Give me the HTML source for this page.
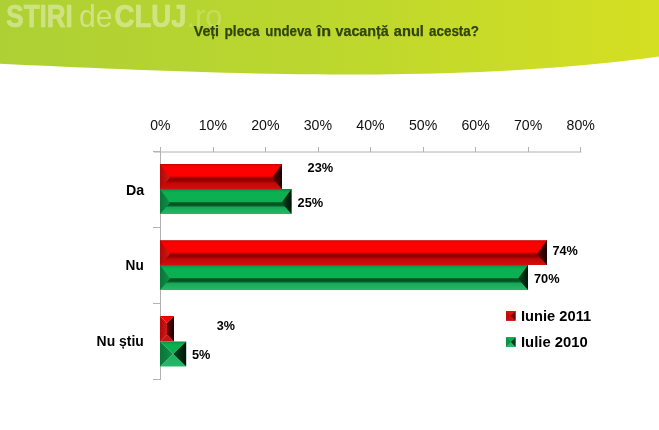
<!DOCTYPE html>
<html><head><meta charset="utf-8"><title>chart</title>
<style>
html,body{margin:0;padding:0;background:#fff;}
body{width:659px;height:430px;overflow:hidden;font-family:"Liberation Sans",sans-serif;}
svg{display:block;will-change:transform;font-family:"Liberation Sans",sans-serif;}
</style></head><body>
<svg width="659" height="430" viewBox="0 0 659 430">
<defs>
<linearGradient id="hg" x1="0" y1="0" x2="1" y2="0"><stop offset="0" stop-color="#aed034"/><stop offset="0.5" stop-color="#bcd72e"/><stop offset="1" stop-color="#d5df22"/></linearGradient>
<linearGradient id="r_body" x1="0" y1="0" x2="0" y2="1"><stop offset="0.000" stop-color="#c40000"/><stop offset="0.060" stop-color="#ec0000"/><stop offset="0.120" stop-color="#ff0000"/><stop offset="0.480" stop-color="#ff0000"/><stop offset="0.540" stop-color="#b40000"/><stop offset="0.600" stop-color="#8c0000"/><stop offset="0.680" stop-color="#9c0000"/><stop offset="0.760" stop-color="#c40606"/><stop offset="1.000" stop-color="#d01010"/></linearGradient>
<linearGradient id="g_body" x1="0" y1="0" x2="0" y2="1"><stop offset="0.000" stop-color="#088038"/><stop offset="0.060" stop-color="#0a9c46"/><stop offset="0.120" stop-color="#0cb050"/><stop offset="0.500" stop-color="#0cb050"/><stop offset="0.540" stop-color="#006830"/><stop offset="0.600" stop-color="#004c20"/><stop offset="0.660" stop-color="#00602a"/><stop offset="0.740" stop-color="#1aa858"/><stop offset="1.000" stop-color="#24b868"/></linearGradient>
<linearGradient id="r_top" x1="0" y1="0" x2="0" y2="1"><stop offset="0" stop-color="#d00000"/><stop offset="0.15" stop-color="#fa0000"/><stop offset="0.3" stop-color="#ff0000"/><stop offset="0.88" stop-color="#ff0000"/><stop offset="1" stop-color="#d80000"/></linearGradient>
<linearGradient id="r_mid" x1="0" y1="0" x2="0" y2="1"><stop offset="0" stop-color="#b40000"/><stop offset="0.35" stop-color="#8c0000"/><stop offset="0.7" stop-color="#980000"/><stop offset="1" stop-color="#c40a0a"/></linearGradient>
<linearGradient id="r_bot" x1="0" y1="0" x2="0" y2="1"><stop offset="0" stop-color="#d01414"/><stop offset="1" stop-color="#cc1010"/></linearGradient>
<linearGradient id="r_left" x1="0" y1="0" x2="1" y2="0"><stop offset="0" stop-color="#b00808"/><stop offset="1" stop-color="#d01818"/></linearGradient>
<linearGradient id="r_right" x1="0" y1="0" x2="1" y2="0"><stop offset="0" stop-color="#6c0000"/><stop offset="1" stop-color="#1a0000"/></linearGradient>
<linearGradient id="g_top" x1="0" y1="0" x2="0" y2="1"><stop offset="0" stop-color="#0a8c40"/><stop offset="0.2" stop-color="#0cac4e"/><stop offset="0.35" stop-color="#0cb050"/><stop offset="0.9" stop-color="#0cb050"/><stop offset="1" stop-color="#089040"/></linearGradient>
<linearGradient id="g_mid" x1="0" y1="0" x2="0" y2="1"><stop offset="0" stop-color="#006028"/><stop offset="0.4" stop-color="#004c20"/><stop offset="1" stop-color="#109048"/></linearGradient>
<linearGradient id="g_bot" x1="0" y1="0" x2="0" y2="1"><stop offset="0" stop-color="#1cb060"/><stop offset="1" stop-color="#24b868"/></linearGradient>
<linearGradient id="g_left" x1="0" y1="0" x2="1" y2="0"><stop offset="0" stop-color="#0a7438"/><stop offset="1" stop-color="#109048"/></linearGradient>
<linearGradient id="g_right" x1="0" y1="0" x2="1" y2="0"><stop offset="0" stop-color="#004c22"/><stop offset="1" stop-color="#001408"/></linearGradient>
</defs>
<rect width="659" height="430" fill="#fff"/>
<path d="M0,0 H659 L659.0,56.59 L645.0,58.41 L630.0,60.24 L615.0,61.93 L600.0,63.49 L585.0,64.93 L570.0,66.25 L555.0,67.46 L540.0,68.55 L525.0,69.53 L510.0,70.42 L495.0,71.20 L480.0,71.89 L465.0,72.49 L450.0,73.01 L435.0,73.44 L420.0,73.79 L405.0,74.06 L390.0,74.27 L375.0,74.40 L360.0,74.47 L345.0,74.48 L330.0,74.43 L315.0,74.32 L300.0,74.16 L285.0,73.95 L270.0,73.69 L255.0,73.39 L240.0,73.05 L225.0,72.67 L210.0,72.25 L195.0,71.79 L180.0,71.31 L165.0,70.79 L150.0,70.25 L135.0,69.68 L120.0,69.09 L105.0,68.48 L90.0,67.84 L75.0,67.19 L60.0,66.53 L45.0,65.84 L30.0,65.15 L15.0,64.44 L0.0,63.72 Z" fill="url(#hg)"/>
<g font-size="30.5px" fill="#fff" opacity="0.39">
<text x="6.3" y="27" font-weight="bold" stroke="#fff" stroke-width="0.7" textLength="66.5" lengthAdjust="spacingAndGlyphs">STIRI</text>
<text x="79" y="27" textLength="33.5" lengthAdjust="spacingAndGlyphs">de</text>
<text x="114.5" y="27" font-weight="bold" stroke="#fff" stroke-width="0.7" textLength="72" lengthAdjust="spacingAndGlyphs">CLUJ</text>
</g>
<g font-size="30.5px" fill="#fff" opacity="0.19">
<text x="186.5" y="27" textLength="36" lengthAdjust="spacingAndGlyphs">.ro</text>
</g>
<g stroke="#b2b2b2" stroke-width="1" fill="none" shape-rendering="crispEdges">
<line x1="154" y1="152" x2="581.5" y2="152" shape-rendering="auto"/>
<line x1="160.5" y1="147" x2="160.5" y2="380"/>
<line x1="160.5" y1="147" x2="160.5" y2="152" />
<line x1="213.5" y1="147" x2="213.5" y2="152" />
<line x1="265.5" y1="147" x2="265.5" y2="152" />
<line x1="318.5" y1="147" x2="318.5" y2="152" />
<line x1="370.5" y1="147" x2="370.5" y2="152" />
<line x1="423.5" y1="147" x2="423.5" y2="152" />
<line x1="475.5" y1="147" x2="475.5" y2="152" />
<line x1="528.5" y1="147" x2="528.5" y2="152" />
<line x1="580.5" y1="147" x2="580.5" y2="152" />
<line x1="153" y1="151.5" x2="160.5" y2="151.5" />
<line x1="153" y1="227.5" x2="160.5" y2="227.5" />
<line x1="153" y1="303.5" x2="160.5" y2="303.5" />
<line x1="153" y1="379.5" x2="160.5" y2="379.5" />
</g>
<g shape-rendering="geometricPrecision">
<rect x="160.0" y="164.0" width="122.0" height="25.0" fill="url(#r_body)"/>
<polygon points="160.0,164.0 170.0,177.8 160.0,189.0" fill="url(#r_left)"/>
<polygon points="282.0,164.0 272.0,177.8 282.0,189.0" fill="url(#r_right)"/>
<rect x="160.0" y="189.0" width="131.5" height="25.0" fill="url(#g_body)"/>
<polygon points="160.0,189.0 170.0,202.8 160.0,214.0" fill="url(#g_left)"/>
<polygon points="291.5,189.0 281.5,202.8 291.5,214.0" fill="url(#g_right)"/>
<rect x="160.0" y="240.2" width="387.0" height="24.8" fill="url(#r_body)"/>
<polygon points="160.0,240.2 170.0,254.0 160.0,265.0" fill="url(#r_left)"/>
<polygon points="547.0,240.2 537.0,254.0 547.0,265.0" fill="url(#r_right)"/>
<rect x="160.0" y="265.0" width="368.0" height="25.0" fill="url(#g_body)"/>
<polygon points="160.0,265.0 170.0,278.8 160.0,290.0" fill="url(#g_left)"/>
<polygon points="528.0,265.0 518.0,278.8 528.0,290.0" fill="url(#g_right)"/>
<polygon points="160.0,316.0 174.0,316.0 167.0,323.0 167.0,323.0" fill="url(#r_top)"/>
<polygon points="160.0,341.5 174.0,341.5 167.0,334.5 167.0,334.5" fill="url(#r_bot)"/>
<polygon points="160.0,316.0 167.0,323.0 167.0,334.5 160.0,341.5" fill="url(#r_left)"/>
<polygon points="174.0,316.0 167.0,323.0 167.0,334.5 174.0,341.5" fill="url(#r_right)"/>
<polygon points="160.0,341.5 186.2,341.5 173.1,354.0 173.1,354.0" fill="url(#g_top)"/>
<polygon points="160.0,366.5 186.2,366.5 173.1,354.0 173.1,354.0" fill="url(#g_bot)"/>
<polygon points="160.0,341.5 173.1,354.0 173.1,354.0 160.0,366.5" fill="url(#g_left)"/>
<polygon points="186.2,341.5 173.1,354.0 173.1,354.0 186.2,366.5" fill="url(#g_right)"/>
</g>
<rect x="506" y="311" width="9.5" height="9.7" fill="#c00c0c"/>
<polygon points="515.5,311 515.5,320.7 510.7,315.8" fill="#700000"/>
<polygon points="506,311 515.5,311 510.7,315.8" fill="#dc1010"/>
<polygon points="506,320.7 515.5,320.7 510.7,315.8" fill="#c41212"/>
<rect x="506" y="337.2" width="9.5" height="9.8" fill="#109048"/>
<polygon points="515.5,337.2 515.5,347 510.7,342.1" fill="#003c1a"/>
<polygon points="506,337.2 515.5,337.2 510.7,342.1" fill="#10a850"/>
<polygon points="506,347 515.5,347 510.7,342.1" fill="#28b868"/>
<text x="160.3" y="129.8" font-size="14.5px" font-weight="normal" fill="#111" text-anchor="middle" textLength="20.2" lengthAdjust="spacingAndGlyphs" >0%</text>
<text x="212.9" y="129.8" font-size="14.5px" font-weight="normal" fill="#111" text-anchor="middle" textLength="28.3" lengthAdjust="spacingAndGlyphs" >10%</text>
<text x="265.4" y="129.8" font-size="14.5px" font-weight="normal" fill="#111" text-anchor="middle" textLength="28.3" lengthAdjust="spacingAndGlyphs" >20%</text>
<text x="317.9" y="129.8" font-size="14.5px" font-weight="normal" fill="#111" text-anchor="middle" textLength="28.3" lengthAdjust="spacingAndGlyphs" >30%</text>
<text x="370.5" y="129.8" font-size="14.5px" font-weight="normal" fill="#111" text-anchor="middle" textLength="28.3" lengthAdjust="spacingAndGlyphs" >40%</text>
<text x="423.1" y="129.8" font-size="14.5px" font-weight="normal" fill="#111" text-anchor="middle" textLength="28.3" lengthAdjust="spacingAndGlyphs" >50%</text>
<text x="475.6" y="129.8" font-size="14.5px" font-weight="normal" fill="#111" text-anchor="middle" textLength="28.3" lengthAdjust="spacingAndGlyphs" >60%</text>
<text x="528.1" y="129.8" font-size="14.5px" font-weight="normal" fill="#111" text-anchor="middle" textLength="28.3" lengthAdjust="spacingAndGlyphs" >70%</text>
<text x="580.7" y="129.8" font-size="14.5px" font-weight="normal" fill="#111" text-anchor="middle" textLength="28.3" lengthAdjust="spacingAndGlyphs" >80%</text>
<text x="144.3" y="194.7" font-size="14.5px" font-weight="bold" fill="#000" text-anchor="end" textLength="18.2" lengthAdjust="spacingAndGlyphs" >Da</text>
<text x="143.8" y="269.9" font-size="14.5px" font-weight="bold" fill="#000" text-anchor="end" textLength="18.2" lengthAdjust="spacingAndGlyphs" >Nu</text>
<text x="143.8" y="345.7" font-size="14.5px" font-weight="bold" fill="#000" text-anchor="end" textLength="47.2" lengthAdjust="spacingAndGlyphs" >Nu știu</text>
<text x="307.6" y="172.0" font-size="13px" font-weight="bold" fill="#000" text-anchor="start" textLength="25.7" lengthAdjust="spacingAndGlyphs" >23%</text>
<text x="297.5" y="207.2" font-size="13px" font-weight="bold" fill="#000" text-anchor="start" textLength="25.7" lengthAdjust="spacingAndGlyphs" >25%</text>
<text x="552.5" y="254.6" font-size="13px" font-weight="bold" fill="#000" text-anchor="start" textLength="25.4" lengthAdjust="spacingAndGlyphs" >74%</text>
<text x="534.0" y="283.4" font-size="13px" font-weight="bold" fill="#000" text-anchor="start" textLength="25.6" lengthAdjust="spacingAndGlyphs" >70%</text>
<text x="216.7" y="329.8" font-size="13px" font-weight="bold" fill="#000" text-anchor="start" textLength="18.2" lengthAdjust="spacingAndGlyphs" >3%</text>
<text x="191.9" y="359.2" font-size="13px" font-weight="bold" fill="#000" text-anchor="start" textLength="18.4" lengthAdjust="spacingAndGlyphs" >5%</text>
<text x="521.0" y="321.0" font-size="14px" font-weight="bold" fill="#000" text-anchor="start" textLength="70.2" lengthAdjust="spacingAndGlyphs" >Iunie 2011</text>
<text x="521.0" y="347.0" font-size="14px" font-weight="bold" fill="#000" text-anchor="start" textLength="66.7" lengthAdjust="spacingAndGlyphs" >Iulie 2010</text>
<text x="193.7" y="35.6" font-size="14.3px" font-weight="bold" fill="#31440d" text-anchor="start" textLength="25.3" lengthAdjust="spacingAndGlyphs" stroke="#31440d" stroke-width="0.25">Veți</text>
<text x="224.5" y="35.6" font-size="14.3px" font-weight="bold" fill="#31440d" text-anchor="start" textLength="35.0" lengthAdjust="spacingAndGlyphs" stroke="#31440d" stroke-width="0.25">pleca</text>
<text x="265.3" y="35.6" font-size="14.3px" font-weight="bold" fill="#31440d" text-anchor="start" textLength="46.4" lengthAdjust="spacingAndGlyphs" stroke="#31440d" stroke-width="0.25">undeva</text>
<text x="316.8" y="35.6" font-size="14.3px" font-weight="bold" fill="#31440d" text-anchor="start" textLength="14.3" lengthAdjust="spacingAndGlyphs" stroke="#31440d" stroke-width="0.25">în</text>
<text x="335.5" y="35.6" font-size="14.3px" font-weight="bold" fill="#31440d" text-anchor="start" textLength="53.3" lengthAdjust="spacingAndGlyphs" stroke="#31440d" stroke-width="0.25">vacanță</text>
<text x="393.8" y="35.6" font-size="14.3px" font-weight="bold" fill="#31440d" text-anchor="start" textLength="30.1" lengthAdjust="spacingAndGlyphs" stroke="#31440d" stroke-width="0.25">anul</text>
<text x="429.0" y="35.6" font-size="14.3px" font-weight="bold" fill="#31440d" text-anchor="start" textLength="50.0" lengthAdjust="spacingAndGlyphs" stroke="#31440d" stroke-width="0.25">acesta?</text>
</svg>
</body></html>
